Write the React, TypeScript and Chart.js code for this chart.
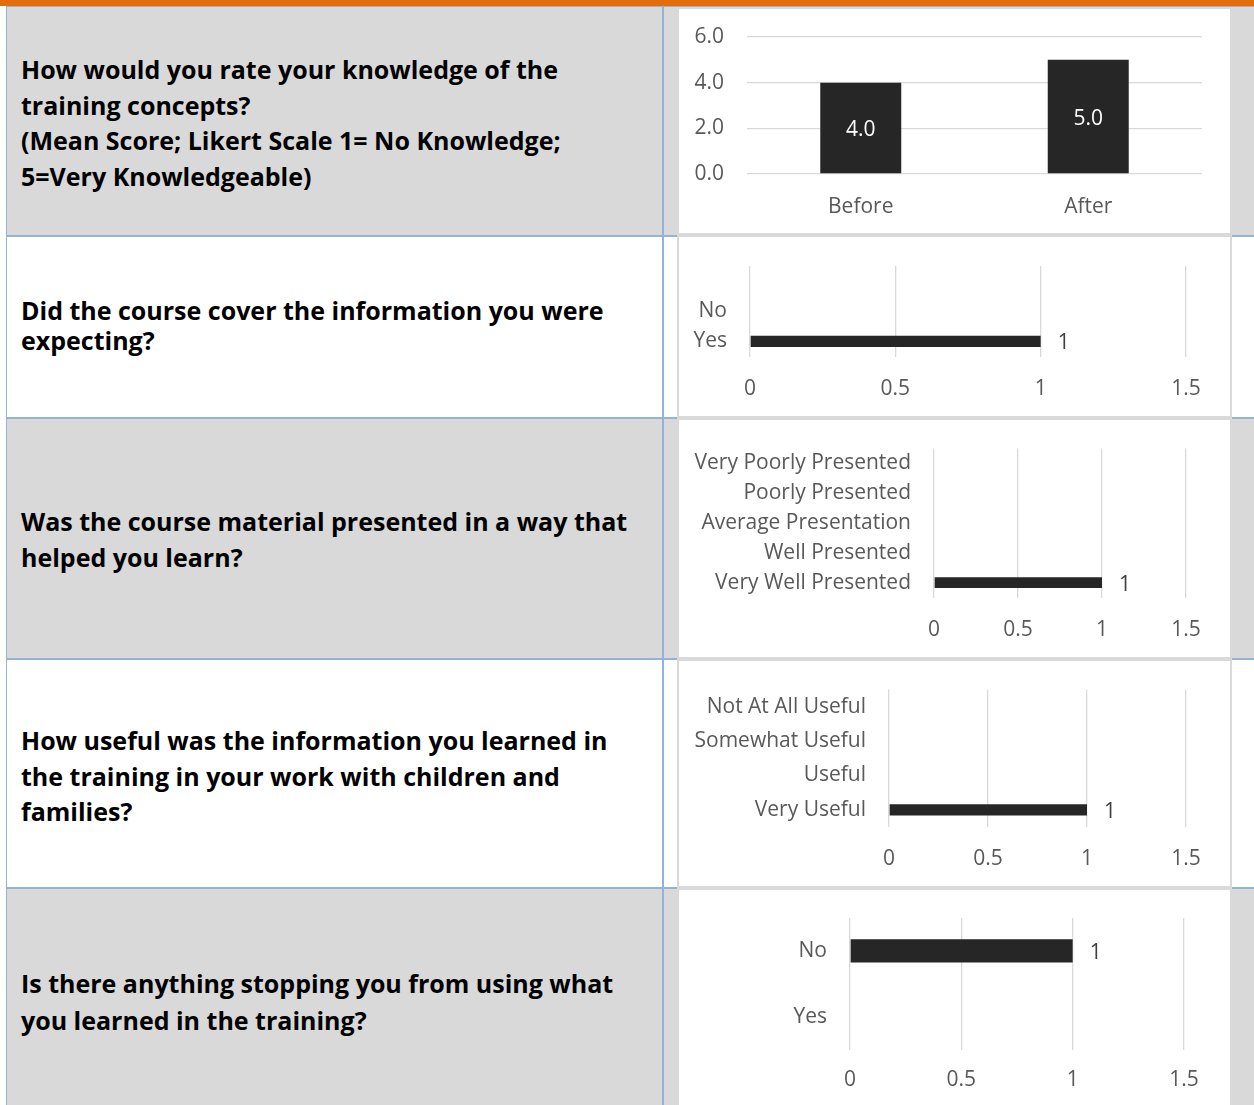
import React, { useEffect, useRef } from "react";
import { Chart, registerables } from "chart.js";

Chart.register(...registerables);

// ---------- data ----------
const knowledgeLabels = ["Before", "After"];
const knowledgeValues = [4.0, 5.0];
const knowledgeMin = 0;
const knowledgeMax = 6;
const knowledgeStep = 2;

const coverLabels = ["", "No", "Yes"];
const coverValues: (number | null)[] = [null, null, 1];

const presentLabels = [
  "Very Poorly Presented",
  "Poorly Presented",
  "Average Presentation",
  "Well Presented",
  "Very Well Presented",
];
const presentValues: (number | null)[] = [null, null, null, null, 1];

const usefulLabels = ["Not At All Useful", "Somewhat Useful", "Useful", "Very Useful"];
const usefulValues: (number | null)[] = [null, null, null, 1];

const stopLabels = ["No", "Yes"];
const stopValues: (number | null)[] = [1, null];

const countMin = 0;
const countMax = 1.5;
const countStep = 0.5;

const questions: string[][] = [
  [
    "How would you rate your knowledge of the",
    "training concepts?",
    "(Mean Score; Likert Scale 1= No Knowledge;",
    "5=Very Knowledgeable)",
  ],
  ["Did the course cover the information you were", "expecting?"],
  ["Was the course material presented in a way that", "helped you learn?"],
  [
    "How useful was the information you learned in",
    "the training in your work with children and",
    "families?",
  ],
  ["Is there anything stopping you from using what", "you learned in the training?"],
];

// ---------- styles ----------
const FONT = '"Open Sans", "DejaVu Sans", sans-serif';
const ORANGE = "#E46C0A";
const BLUE = "#95B3D7";
const GRAY = "#D9D9D9";
const GRID = "#D9D9D9";
const TICK = "#595959";
const BAR = "#262626";
const TICK_SIZE = 21;
const LABEL_GAP = 23;

Chart.defaults.font.family = FONT;

const valueLabelPlugin = {
  id: "valueLabels",
  afterDatasetsDraw(chart: any, _args: any, opts: any) {
    const ctx = chart.ctx;
    chart.data.datasets.forEach((ds: any, di: number) => {
      const meta = chart.getDatasetMeta(di);
      meta.data.forEach((el: any, i: number) => {
        const v = ds.data[i];
        if (v == null) return;
        ctx.save();
        ctx.font = `${opts.size}px ${FONT}`;
        ctx.fillStyle = opts.color;
        if (opts.mode === "center") {
          const p = el.getProps(["x", "y", "base"], true);
          ctx.textAlign = "center";
          ctx.textBaseline = "middle";
          ctx.fillText(Number(v).toFixed(opts.decimals), p.x, (p.y + p.base) / 2 + opts.dy);
        } else {
          const p = el.getProps(["x", "y"], true);
          ctx.textAlign = "left";
          ctx.textBaseline = "middle";
          ctx.fillText(String(v), p.x + opts.offset, p.y + opts.dy);
        }
        ctx.restore();
      });
    });
  },
};

type Geom = { left: number; right: number; top: number; bottom: number; bar: number; pad?: number };

function vbarConfig(g: Geom): any {
  return {
    type: "bar",
    data: {
      labels: knowledgeLabels,
      datasets: [
        {
          data: knowledgeValues,
          backgroundColor: BAR,
          barPercentage: g.bar,
          categoryPercentage: 1,
        },
      ],
    },
    options: {
      responsive: false,
      animation: false,
      layout: { autoPadding: false, padding: { left: 0, right: g.right, top: g.top, bottom: 0 } },
      plugins: {
        legend: { display: false },
        tooltip: { enabled: false },
        valueLabels: { mode: "center", color: "#FFFFFF", size: TICK_SIZE, decimals: 1, dy: 2.5, offset: 0 },
      },
      scales: {
        x: {
          grid: { display: false, drawTicks: false },
          border: { display: false },
          ticks: { color: TICK, font: { size: TICK_SIZE }, padding: g.pad ?? 20 },
          afterFit: (s: any) => {
            s.height = g.bottom;
          },
        },
        y: {
          min: knowledgeMin,
          max: knowledgeMax,
          grid: {
            color: GRID,
            lineWidth: 1.3,
            drawTicks: true,
            tickLength: LABEL_GAP,
            tickColor: "rgba(0,0,0,0)",
          },
          border: { display: false },
          ticks: {
            stepSize: knowledgeStep,
            color: TICK,
            font: { size: TICK_SIZE },
            padding: 0,
            callback: (v: any) => Number(v).toFixed(1),
          },
          afterFit: (s: any) => {
            s.width = g.left;
          },
        },
      },
    },
    plugins: [valueLabelPlugin],
  };
}

function hbarConfig(labels: string[], values: (number | null)[], g: Geom): any {
  return {
    type: "bar",
    data: {
      labels,
      datasets: [
        {
          data: values,
          backgroundColor: BAR,
          barPercentage: g.bar,
          categoryPercentage: 1,
        },
      ],
    },
    options: {
      indexAxis: "y",
      responsive: false,
      animation: false,
      layout: { autoPadding: false, padding: { left: 0, right: g.right, top: g.top, bottom: 0 } },
      plugins: {
        legend: { display: false },
        tooltip: { enabled: false },
        valueLabels: { mode: "end", color: "#404040", size: TICK_SIZE, decimals: 0, dy: 2, offset: 17 },
      },
      scales: {
        x: {
          min: countMin,
          max: countMax,
          grid: { color: GRID, lineWidth: 1.3, drawTicks: false },
          border: { display: false },
          ticks: {
            stepSize: countStep,
            color: TICK,
            font: { size: TICK_SIZE },
            padding: g.pad ?? 20,
            callback: (v: any) => String(Number(v)),
          },
          afterFit: (s: any) => {
            s.height = g.bottom;
          },
        },
        y: {
          grid: {
            display: true,
            color: "rgba(0,0,0,0)",
            drawTicks: true,
            tickLength: LABEL_GAP,
            tickColor: "rgba(0,0,0,0)",
          },
          border: { display: false },
          ticks: { color: TICK, font: { size: TICK_SIZE }, padding: 0, autoSkip: false },
          afterFit: (s: any) => {
            s.width = g.left;
          },
        },
      },
    },
    plugins: [valueLabelPlugin],
  };
}

function ChartCanvas({ x, y, w, h, make }: { x: number; y: number; w: number; h: number; make: () => any }) {
  const ref = useRef<HTMLCanvasElement>(null);
  useEffect(() => {
    const chart = new Chart(ref.current as HTMLCanvasElement, make());
    return () => chart.destroy();
  }, []);
  return (
    <canvas
      ref={ref}
      width={w}
      height={h}
      style={{ position: "absolute", left: x, top: y, width: w, height: h }}
    />
  );
}

const abs = (left: number, top: number, width: number, height: number, extra: any = {}) => ({
  position: "absolute" as const,
  left,
  top,
  width,
  height,
  ...extra,
});

// row geometry
const rows = [
  { top: 7, bottom: 235, bg: GRAY, textTop: 52, lh: 35.5 },
  { top: 237, bottom: 417, bg: "#FFFFFF", textTop: 295, lh: 30 },
  { top: 419, bottom: 658, bg: GRAY, textTop: 504, lh: 35.5 },
  { top: 660, bottom: 887, bg: "#FFFFFF", textTop: 723, lh: 35.5 },
  { top: 889, bottom: 1114, bg: GRAY, textTop: 965, lh: 36.5 },
];
const boxes = [
  { top: 7, bottom: 235 },
  { top: 235, bottom: 418 },
  { top: 418, bottom: 659 },
  { top: 659, bottom: 888 },
  { top: 888, bottom: 1114 },
];
const BOX_L = 677;
const BOX_R = 1232;

export default function App() {
  const charts = [
    () => vbarConfig({ left: 70, right: 29, top: 30, bottom: 61, bar: 0.356 }),
    () => hbarConfig(coverLabels, coverValues, { left: 73, right: 45, top: 31, bottom: 61.5, bar: 0.37 }),
    () => hbarConfig(presentLabels, presentValues, { left: 257, right: 45, top: 30.5, bottom: 61.5, bar: 0.36 }),
    () => hbarConfig(usefulLabels, usefulValues, { left: 212, right: 45, top: 30.5, bottom: 61, bar: 0.33, pad: 19 }),
    () => hbarConfig(stopLabels, stopValues, { left: 173, right: 47, top: 30, bottom: 64.5, bar: 0.35, pad: 18 }),
  ];
  return (
    <div style={abs(0, 0, 1254, 1105, { background: "#FFFFFF", overflow: "hidden" })}>
      <div style={abs(0, 0, 1254, 6, { background: ORANGE })} />
      {rows.map((r, i) => (
        <div key={"bg" + i} style={abs(7, r.top, 1247, r.bottom - r.top, { background: r.bg })} />
      ))}
      {/* table lines */}
      <div style={abs(6, 6, 1248, 1, { background: BLUE })} />
      <div style={abs(6, 6, 1, 1110, { background: BLUE })} />
      <div style={abs(662, 6, 2, 1110, { background: BLUE })} />
      {[235, 417, 658, 887].map((y) => (
        <div key={"hl" + y} style={abs(6, y, 1248, 2, { background: BLUE })} />
      ))}
      {/* chart boxes */}
      {boxes.map((b, i) => (
        <div
          key={"box" + i}
          style={abs(BOX_L, b.top, BOX_R - BOX_L, b.bottom - b.top, {
            background: "#FFFFFF",
            border: "2px solid " + GRAY,
            boxSizing: "border-box",
          })}
        />
      ))}
      {/* question texts */}
      {questions.map((lines, i) => (
        <div
          key={"q" + i}
          style={{
            position: "absolute",
            left: 21,
            top: rows[i].textTop,
            fontFamily: FONT,
            fontWeight: 700,
            fontSize: 25,
            lineHeight: rows[i].lh + "px",
            color: "#000000",
            whiteSpace: "nowrap",
          }}
        >
          {lines.map((l, j) => (
            <div key={j}>{l}</div>
          ))}
        </div>
      ))}
      {/* charts */}
      {charts.map((make, i) => (
        <ChartCanvas
          key={"c" + i}
          x={BOX_L}
          y={boxes[i].top}
          w={BOX_R - BOX_L - 1}
          h={boxes[i].bottom - boxes[i].top}
          make={make}
        />
      ))}
    </div>
  );
}
